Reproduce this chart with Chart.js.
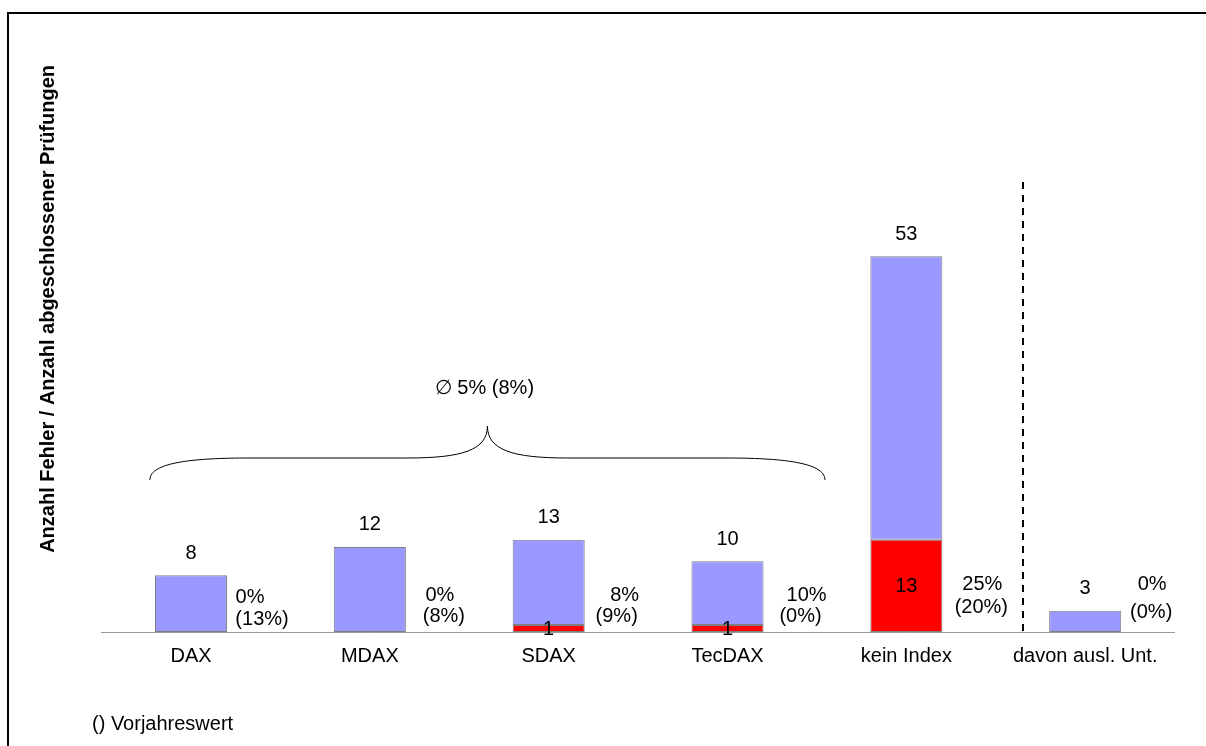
<!DOCTYPE html>
<html><head><meta charset="utf-8">
<script src="https://cdn.jsdelivr.net/npm/chart.js@4.4.1/dist/chart.umd.min.js"></script>
<style>
html,body{margin:0;padding:0;background:#fff;width:1206px;height:746px;overflow:hidden;}
#frame{position:absolute;left:7px;top:12px;width:1300px;height:732px;border-top:2px solid #000;border-left:2px solid #000;}
#wrap{position:absolute;left:0;top:0;width:1206px;height:746px;}
#note{position:absolute;left:92px;top:711px;font:20px Arial,"Liberation Sans",sans-serif;line-height:24px;color:#000;white-space:nowrap;}
</style></head>
<body>
<div id="frame"></div>
<div id="wrap"><canvas id="c" width="1206" height="746"></canvas></div>
<div id="note"></div>
<script>
// ---- data ----
const categories = ['DAX', 'MDAX', 'SDAX', 'TecDAX', 'kein Index', 'davon ausl. Unt.'];
const totalAudits = [8, 12, 13, 10, 53, 3];
const errorCounts = [0, 0, 1, 1, 13, 0];
const errorRate = ['0%', '0%', '8%', '10%', '25%', '0%'];
const prevYearRate = ['(13%)', '(8%)', '(9%)', '(0%)', '(20%)', '(0%)'];
const averageLabel = '\u2205 5% (8%)';
const yTitle = 'Anzahl Fehler / Anzahl abgeschlossener Pr\u00fcfungen';
const footnote = '() Vorjahreswert';

const noErrorCounts = totalAudits.map((t, i) => t - errorCounts[i]);

// ---- layout / style ----
const FONT = 'Arial, "Liberation Sans", sans-serif';
const pctOffsetX = [[59, 71], [70, 74], [76, 68], [79, 73], [76, 75], [67, 66]];
const pctOffsetY = [[-35, -13], [-37, -16], [-37, -16], [-37, -16], [-48, -25], [-48, -20]];

document.getElementById('note').textContent = footnote;

const annot = {
  id: 'annot',
  afterDatasetsDraw(chart) {
    const ctx = chart.ctx;
    const xs = chart.scales.x, ys = chart.scales.y;
    const base = ys.getPixelForValue(0);
    const step = xs.getPixelForValue(1) - xs.getPixelForValue(0);
    ctx.save();
    ctx.font = '20px ' + FONT;
    ctx.fillStyle = '#000';
    ctx.textAlign = 'center';
    ctx.textBaseline = 'middle';
    categories.forEach((c, i) => {
      const cx = xs.getPixelForValue(i);
      const top = ys.getPixelForValue(totalAudits[i]);
      ctx.fillText(String(totalAudits[i]), cx, top - 22);
      if (errorCounts[i] > 0) {
        const ry = (ys.getPixelForValue(errorCounts[i]) + base) / 2;
        ctx.fillText(String(errorCounts[i]), cx, ry + 1);
      }
      ctx.fillText(errorRate[i], cx + pctOffsetX[i][0], base + pctOffsetY[i][0]);
      ctx.fillText(prevYearRate[i], cx + pctOffsetX[i][1], base + pctOffsetY[i][1]);
    });

    // dashed separator
    const sx = Math.round(xs.getPixelForValue(4) + 0.655 * step);
    ctx.strokeStyle = '#000';
    ctx.lineWidth = 2;
    ctx.setLineDash([7, 6]);
    ctx.beginPath();
    ctx.moveTo(sx, ys.getPixelForValue(63.5));
    ctx.lineTo(sx, base);
    ctx.stroke();
    ctx.setLineDash([]);

    // brace over the index group
    const L = xs.getPixelForValue(0) - 0.23 * step;
    const R = xs.getPixelForValue(3) + 0.545 * step;
    const M = (L + R) / 2;
    const yEnd = base - 152, yMid = base - 174, yTip = base - 206;
    ctx.lineWidth = 1;
    ctx.beginPath();
    ctx.moveTo(L, yEnd);
    ctx.bezierCurveTo(L, yMid + 4, L + 45, yMid, L + 100, yMid);
    ctx.lineTo(M - 80, yMid);
    ctx.bezierCurveTo(M - 25, yMid, M, yMid - 8, M, yTip);
    ctx.bezierCurveTo(M, yMid - 8, M + 25, yMid, M + 80, yMid);
    ctx.lineTo(R - 100, yMid);
    ctx.bezierCurveTo(R - 45, yMid, R, yMid + 4, R, yEnd);
    ctx.stroke();
    ctx.fillText(averageLabel, M - 3, yTip - 38);
    ctx.restore();
  }
};

new Chart(document.getElementById('c'), {
  type: 'bar',
  data: {
    labels: categories,
    datasets: [
      { label: 'Fehler', data: errorCounts, backgroundColor: '#FF0000', borderColor: '#808080', borderWidth: 1, borderSkipped: false },
      { label: 'ohne Fehler', data: noErrorCounts, backgroundColor: '#9999FF', borderColor: '#808080', borderWidth: 1, borderSkipped: false }
    ]
  },
  options: {
    responsive: false,
    animation: false,
    events: [],
    layout: { padding: { left: 0, right: 31.4, top: 65, bottom: 0 } },
    datasets: { bar: { categoryPercentage: 1, barPercentage: 0.403 } },
    plugins: { legend: { display: false }, tooltip: { enabled: false } },
    scales: {
      x: {
        stacked: true,
        grid: { display: false, drawTicks: false },
        border: { display: true, color: '#999999', width: 1 },
        ticks: { color: '#000', font: { size: 20, family: FONT }, padding: 12, maxRotation: 0, autoSkip: false },
        afterFit(s) { s.height = 114; }
      },
      y: {
        stacked: true,
        min: 0,
        max: 80,
        ticks: { display: false },
        grid: { display: false, drawTicks: false },
        border: { display: false },
        title: { display: true, text: yTitle, align: 'end', color: '#000', font: { size: 20, weight: 'bold', family: FONT }, padding: { top: 36, bottom: 0 } },
        afterFit(s) { s.width = 101.6; }
      }
    }
  },
  plugins: [annot]
});
</script>
</body></html>
